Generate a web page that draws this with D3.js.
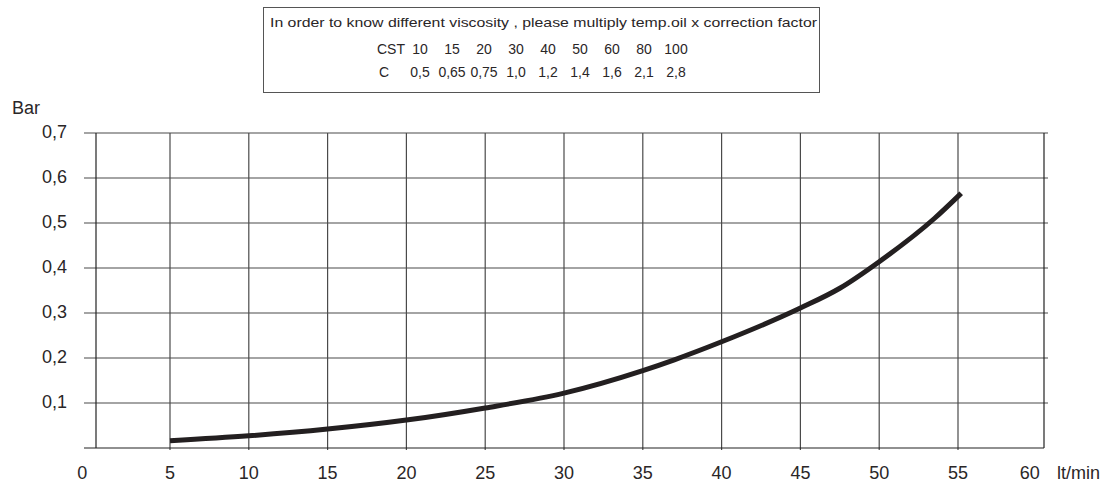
<!DOCTYPE html>
<html>
<head>
<meta charset="utf-8">
<script src="https://cdn.jsdelivr.net/npm/d3@7"></script>
<style>
  body { margin: 0; background: #fff; }
  text { font-family: "Liberation Sans", Arial, sans-serif; fill: #2a2627; }
</style>
</head>
<body>
<div id="chart"></div>
<script>
// flow (lt/min) vs pressure drop (bar)
const flow = [5, 10, 15, 20, 25, 30, 35, 37, 40, 45, 47.5, 50, 53.5, 55.2];
const pressure = [0.016, 0.027, 0.042, 0.062, 0.089, 0.122, 0.172, 0.196, 0.236, 0.311, 0.355, 0.414, 0.51, 0.566];

const xTicks = [0, 5, 10, 15, 20, 25, 30, 35, 40, 45, 50, 55, 60];
const xGrid = [5, 10, 15, 20, 25, 30, 35, 40, 45, 50, 55];
const yTicks = [0.1, 0.2, 0.3, 0.4, 0.5, 0.6, 0.7];

// viscosity correction table
const noteText = 'In order to know different viscosity , please multiply temp.oil x correction factor';
const cst = ['10', '15', '20', '30', '40', '50', '60', '80', '100'];
const corr = ['0,5', '0,65', '0,75', '1,0', '1,2', '1,4', '1,6', '2,1', '2,8'];

const width = 1112, height = 484;
const frame = { left: 96, right: 1044, top: 133, bottom: 448 };

const svg = d3.select('#chart').append('svg')
  .attr('width', width)
  .attr('height', height);

const x = d3.scaleLinear().domain([5, 55]).range([170, 958]);
const y = d3.scaleLinear().domain([0, 0.7]).range([frame.bottom, frame.top]);
const fmt = v => d3.format('.1f')(v).replace('.', ',');

// note box
const note = svg.append('g');
note.append('rect')
  .attr('x', 263.5).attr('y', 7.5)
  .attr('width', 556).attr('height', 85)
  .attr('fill', 'none').attr('stroke', '#555').attr('stroke-width', 1);
note.append('text')
  .attr('x', 270).attr('y', 27)
  .attr('textLength', 547).attr('lengthAdjust', 'spacingAndGlyphs')
  .style('font-size', '13px')
  .text(noteText);

const col = d3.scalePoint().domain(d3.range(cst.length)).range([420, 676]);
note.append('text').attr('x', 377).attr('y', 54).style('font-size', '14px').text('CST');
note.append('text').attr('x', 379).attr('y', 77).style('font-size', '14px').text('C');
note.selectAll('.cst').data(cst).join('text')
  .attr('class', 'cst')
  .attr('x', (d, i) => col(i)).attr('y', 54)
  .attr('text-anchor', 'middle').style('font-size', '14px')
  .text(d => d);
note.selectAll('.corr').data(corr).join('text')
  .attr('class', 'corr')
  .attr('x', (d, i) => col(i)).attr('y', 77)
  .attr('text-anchor', 'middle').style('font-size', '14px')
  .text(d => d);

// grid
const grid = svg.append('g').attr('stroke', '#4a4a4a').attr('stroke-width', 1.2);
grid.selectAll('.vg').data(xGrid).join('line')
  .attr('x1', d => x(d)).attr('x2', d => x(d))
  .attr('y1', frame.top).attr('y2', frame.bottom + 2);
grid.selectAll('.hg').data(yTicks).join('line')
  .attr('x1', 84).attr('x2', frame.right + 4)
  .attr('y1', d => y(d)).attr('y2', d => y(d));
grid.append('line')
  .attr('x1', 84).attr('x2', frame.right)
  .attr('y1', y(0)).attr('y2', y(0)).attr('stroke', '#222');
grid.append('line')
  .attr('x1', frame.left).attr('x2', frame.left)
  .attr('y1', frame.top).attr('y2', frame.bottom).attr('stroke', '#222');
grid.append('line')
  .attr('x1', frame.right).attr('x2', frame.right)
  .attr('y1', frame.top).attr('y2', frame.bottom).attr('stroke', '#222');

// axes labels (the drawing pulls the 0 and 60 labels slightly inward)
const labelShift = d => d === 0 ? -9 : d === 60 ? -7 : 0;
svg.selectAll('.xl').data(xTicks).join('text')
  .attr('x', d => x(d) + labelShift(d)).attr('y', 479)
  .attr('text-anchor', 'middle').style('font-size', '18px')
  .text(d => d);
svg.selectAll('.yl').data(yTicks).join('text')
  .attr('x', 67).attr('y', d => y(d) + 5)
  .attr('text-anchor', 'end').style('font-size', '18px')
  .text(d => fmt(d));
svg.append('text').attr('x', 12).attr('y', 114).style('font-size', '18px').text('Bar');
svg.append('text').attr('x', 1057).attr('y', 479).style('font-size', '18px').text('lt/min');

// curve
const line = d3.line()
  .x((d, i) => x(flow[i]))
  .y(d => y(d))
  .curve(d3.curveMonotoneX);
svg.append('path')
  .datum(pressure)
  .attr('d', line)
  .attr('fill', 'none')
  .attr('stroke', '#231f20')
  .attr('stroke-width', 5);
</script>
</body>
</html>
